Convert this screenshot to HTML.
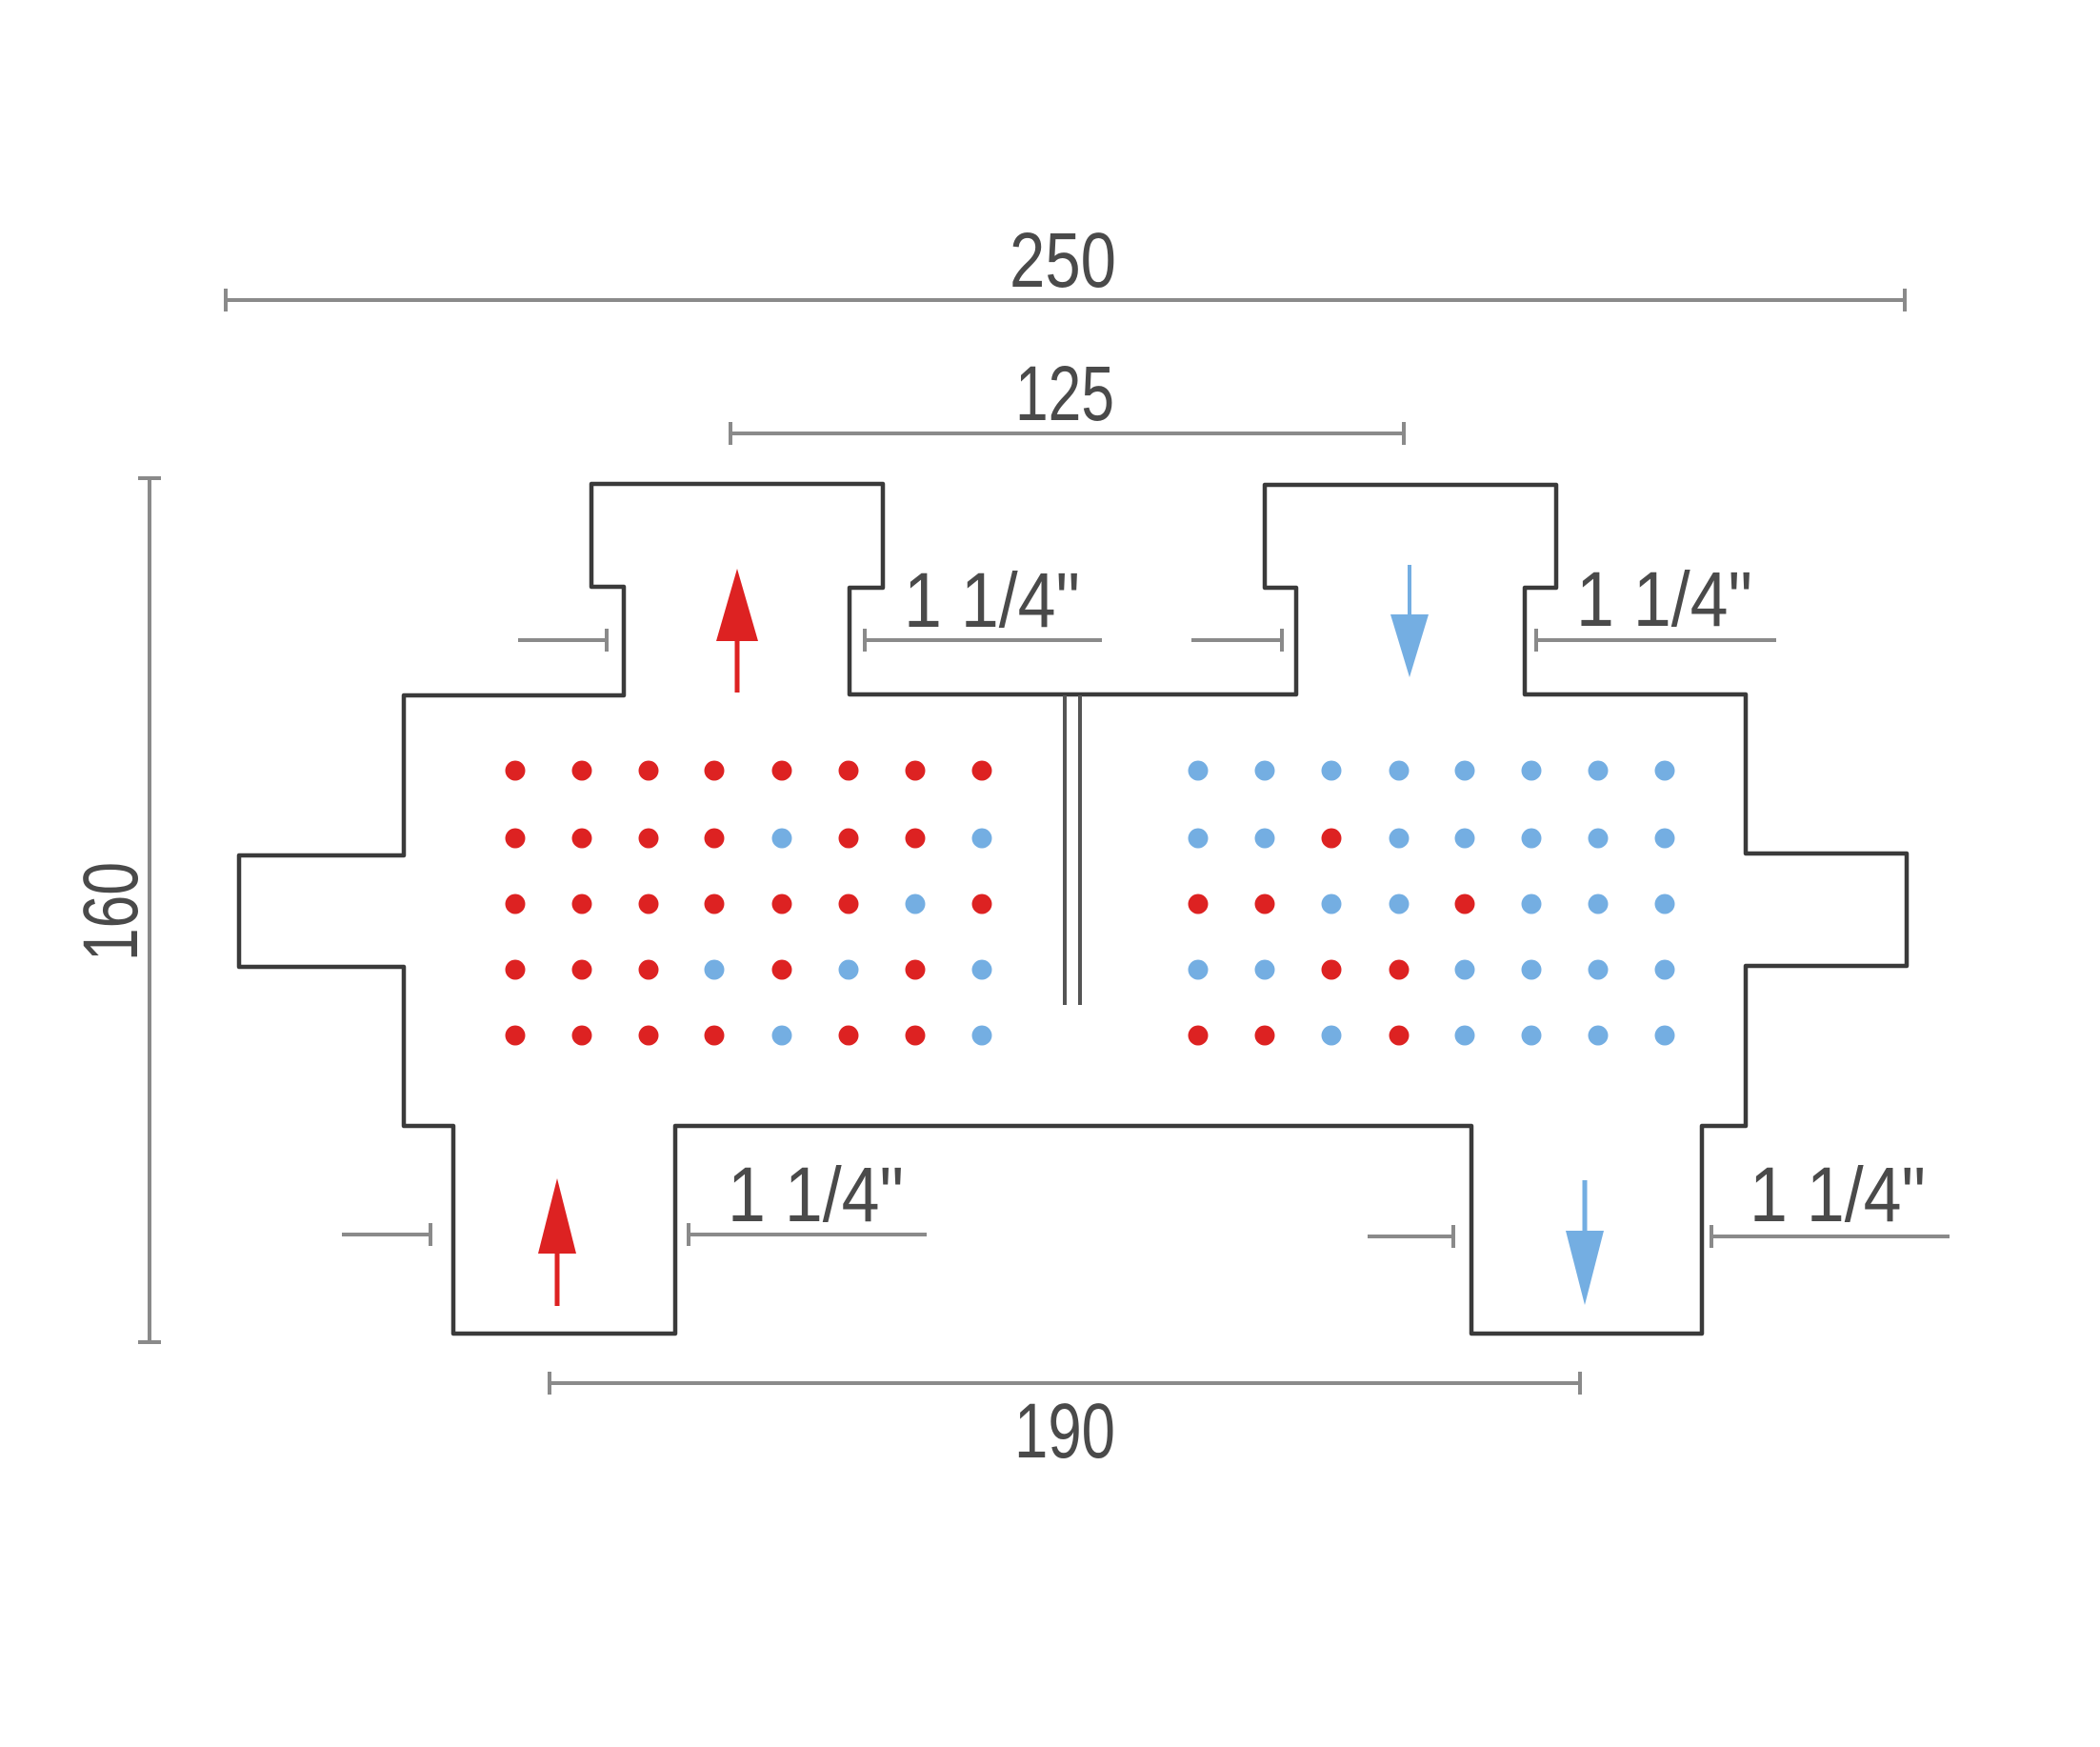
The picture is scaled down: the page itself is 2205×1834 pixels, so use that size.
<!DOCTYPE html>
<html><head><meta charset="utf-8"><style>html,body{margin:0;padding:0;background:#fff}svg{display:block}.r{fill:#dd2222}.b{fill:#74aee2}</style></head>
<body>
<svg width="2205" height="1834" viewBox="0 0 2205 1834" xmlns="http://www.w3.org/2000/svg">
<rect width="2205" height="1834" fill="#fff"/>
<g font-family="Liberation Sans, sans-serif" fill="#4a4a4a" font-size="82">
<text x="1060" y="301" textLength="112" lengthAdjust="spacingAndGlyphs">250</text>
<text x="1066" y="441" textLength="104" lengthAdjust="spacingAndGlyphs">125</text>
<text x="1065" y="1530" textLength="106" lengthAdjust="spacingAndGlyphs">190</text>
<text transform="translate(144,957) rotate(-90)" text-anchor="middle" x="0" y="0" textLength="104" lengthAdjust="spacingAndGlyphs">160</text>
<text x="949" y="658" textLength="185" lengthAdjust="spacingAndGlyphs">1 1/4"</text>
<text x="1655" y="657" textLength="185" lengthAdjust="spacingAndGlyphs">1 1/4"</text>
<text x="764" y="1282" textLength="185" lengthAdjust="spacingAndGlyphs">1 1/4"</text>
<text x="1837" y="1282" textLength="185" lengthAdjust="spacingAndGlyphs">1 1/4"</text>
</g>
<g stroke="#8a8a8a" stroke-width="4" fill="none">
<path d="M237,315 H2000 M237,303 V327 M2000,303 V327"/>
<path d="M767,455 H1474 M767,443 V467 M1474,443 V467"/>
<path d="M577,1452 H1659 M577,1440 V1464 M1659,1440 V1464"/>
<path d="M157,502 V1409 M145,502 H169 M145,1409 H169"/>
<path d="M544,672 H637 M637,660 V684"/>
<path d="M908,672 H1157 M908,660 V684"/>
<path d="M1251,672 H1346 M1346,660 V684"/>
<path d="M1613,672 H1865 M1613,660 V684"/>
<path d="M359,1296 H452 M452,1284 V1308"/>
<path d="M723,1296 H973 M723,1284 V1308"/>
<path d="M1436,1298 H1526 M1526,1286 V1310"/>
<path d="M1797,1298 H2047 M1797,1286 V1310"/>
</g>
<path d="M621,508 H927 V617 H892 V729 H1361 V617 H1328 V509 H1634 V617 H1601 V729 H1833 V896 H2002 V1014 H1833 V1182 H1787 V1400 H1545 V1182 H709 V1400 H476 V1182 H424 V1015 H251 V898 H424 V730 H655 V616 H621 Z" fill="none" stroke="#3a3a3a" stroke-width="4.5" stroke-linejoin="round"/>
<path d="M1118,730 V1055 M1134,730 V1055" stroke="#555" stroke-width="4"/>
<g fill="#dd2222" stroke="#dd2222">
<path d="M774,597 L796,673 L752,673 Z" stroke="none"/><path d="M774,670 V727" stroke-width="5"/>
<path d="M585,1237 L605,1316 L565,1316 Z" stroke="none"/><path d="M585,1312 V1371" stroke-width="5"/>
</g>
<g fill="#74aee2" stroke="#74aee2">
<path d="M1480,711 L1500,645 L1460,645 Z" stroke="none"/><path d="M1480,593 V650" stroke-width="4"/>
<path d="M1664,1370 L1684,1292 L1644,1292 Z" stroke="none"/><path d="M1664,1239 V1296" stroke-width="5"/>
</g>
<g>
<circle class="r" cx="541" cy="809" r="10.5"/><circle class="r" cx="611" cy="809" r="10.5"/><circle class="r" cx="681" cy="809" r="10.5"/><circle class="r" cx="750" cy="809" r="10.5"/><circle class="r" cx="821" cy="809" r="10.5"/><circle class="r" cx="891" cy="809" r="10.5"/><circle class="r" cx="961" cy="809" r="10.5"/><circle class="r" cx="1031" cy="809" r="10.5"/>
<circle class="r" cx="541" cy="880" r="10.5"/><circle class="r" cx="611" cy="880" r="10.5"/><circle class="r" cx="681" cy="880" r="10.5"/><circle class="r" cx="750" cy="880" r="10.5"/><circle class="b" cx="821" cy="880" r="10.5"/><circle class="r" cx="891" cy="880" r="10.5"/><circle class="r" cx="961" cy="880" r="10.5"/><circle class="b" cx="1031" cy="880" r="10.5"/>
<circle class="r" cx="541" cy="949" r="10.5"/><circle class="r" cx="611" cy="949" r="10.5"/><circle class="r" cx="681" cy="949" r="10.5"/><circle class="r" cx="750" cy="949" r="10.5"/><circle class="r" cx="821" cy="949" r="10.5"/><circle class="r" cx="891" cy="949" r="10.5"/><circle class="b" cx="961" cy="949" r="10.5"/><circle class="r" cx="1031" cy="949" r="10.5"/>
<circle class="r" cx="541" cy="1018" r="10.5"/><circle class="r" cx="611" cy="1018" r="10.5"/><circle class="r" cx="681" cy="1018" r="10.5"/><circle class="b" cx="750" cy="1018" r="10.5"/><circle class="r" cx="821" cy="1018" r="10.5"/><circle class="b" cx="891" cy="1018" r="10.5"/><circle class="r" cx="961" cy="1018" r="10.5"/><circle class="b" cx="1031" cy="1018" r="10.5"/>
<circle class="r" cx="541" cy="1087" r="10.5"/><circle class="r" cx="611" cy="1087" r="10.5"/><circle class="r" cx="681" cy="1087" r="10.5"/><circle class="r" cx="750" cy="1087" r="10.5"/><circle class="b" cx="821" cy="1087" r="10.5"/><circle class="r" cx="891" cy="1087" r="10.5"/><circle class="r" cx="961" cy="1087" r="10.5"/><circle class="b" cx="1031" cy="1087" r="10.5"/>
<circle class="b" cx="1258" cy="809" r="10.5"/><circle class="b" cx="1328" cy="809" r="10.5"/><circle class="b" cx="1398" cy="809" r="10.5"/><circle class="b" cx="1469" cy="809" r="10.5"/><circle class="b" cx="1538" cy="809" r="10.5"/><circle class="b" cx="1608" cy="809" r="10.5"/><circle class="b" cx="1678" cy="809" r="10.5"/><circle class="b" cx="1748" cy="809" r="10.5"/>
<circle class="b" cx="1258" cy="880" r="10.5"/><circle class="b" cx="1328" cy="880" r="10.5"/><circle class="r" cx="1398" cy="880" r="10.5"/><circle class="b" cx="1469" cy="880" r="10.5"/><circle class="b" cx="1538" cy="880" r="10.5"/><circle class="b" cx="1608" cy="880" r="10.5"/><circle class="b" cx="1678" cy="880" r="10.5"/><circle class="b" cx="1748" cy="880" r="10.5"/>
<circle class="r" cx="1258" cy="949" r="10.5"/><circle class="r" cx="1328" cy="949" r="10.5"/><circle class="b" cx="1398" cy="949" r="10.5"/><circle class="b" cx="1469" cy="949" r="10.5"/><circle class="r" cx="1538" cy="949" r="10.5"/><circle class="b" cx="1608" cy="949" r="10.5"/><circle class="b" cx="1678" cy="949" r="10.5"/><circle class="b" cx="1748" cy="949" r="10.5"/>
<circle class="b" cx="1258" cy="1018" r="10.5"/><circle class="b" cx="1328" cy="1018" r="10.5"/><circle class="r" cx="1398" cy="1018" r="10.5"/><circle class="r" cx="1469" cy="1018" r="10.5"/><circle class="b" cx="1538" cy="1018" r="10.5"/><circle class="b" cx="1608" cy="1018" r="10.5"/><circle class="b" cx="1678" cy="1018" r="10.5"/><circle class="b" cx="1748" cy="1018" r="10.5"/>
<circle class="r" cx="1258" cy="1087" r="10.5"/><circle class="r" cx="1328" cy="1087" r="10.5"/><circle class="b" cx="1398" cy="1087" r="10.5"/><circle class="r" cx="1469" cy="1087" r="10.5"/><circle class="b" cx="1538" cy="1087" r="10.5"/><circle class="b" cx="1608" cy="1087" r="10.5"/><circle class="b" cx="1678" cy="1087" r="10.5"/><circle class="b" cx="1748" cy="1087" r="10.5"/>
</g>
</svg>
</body></html>
